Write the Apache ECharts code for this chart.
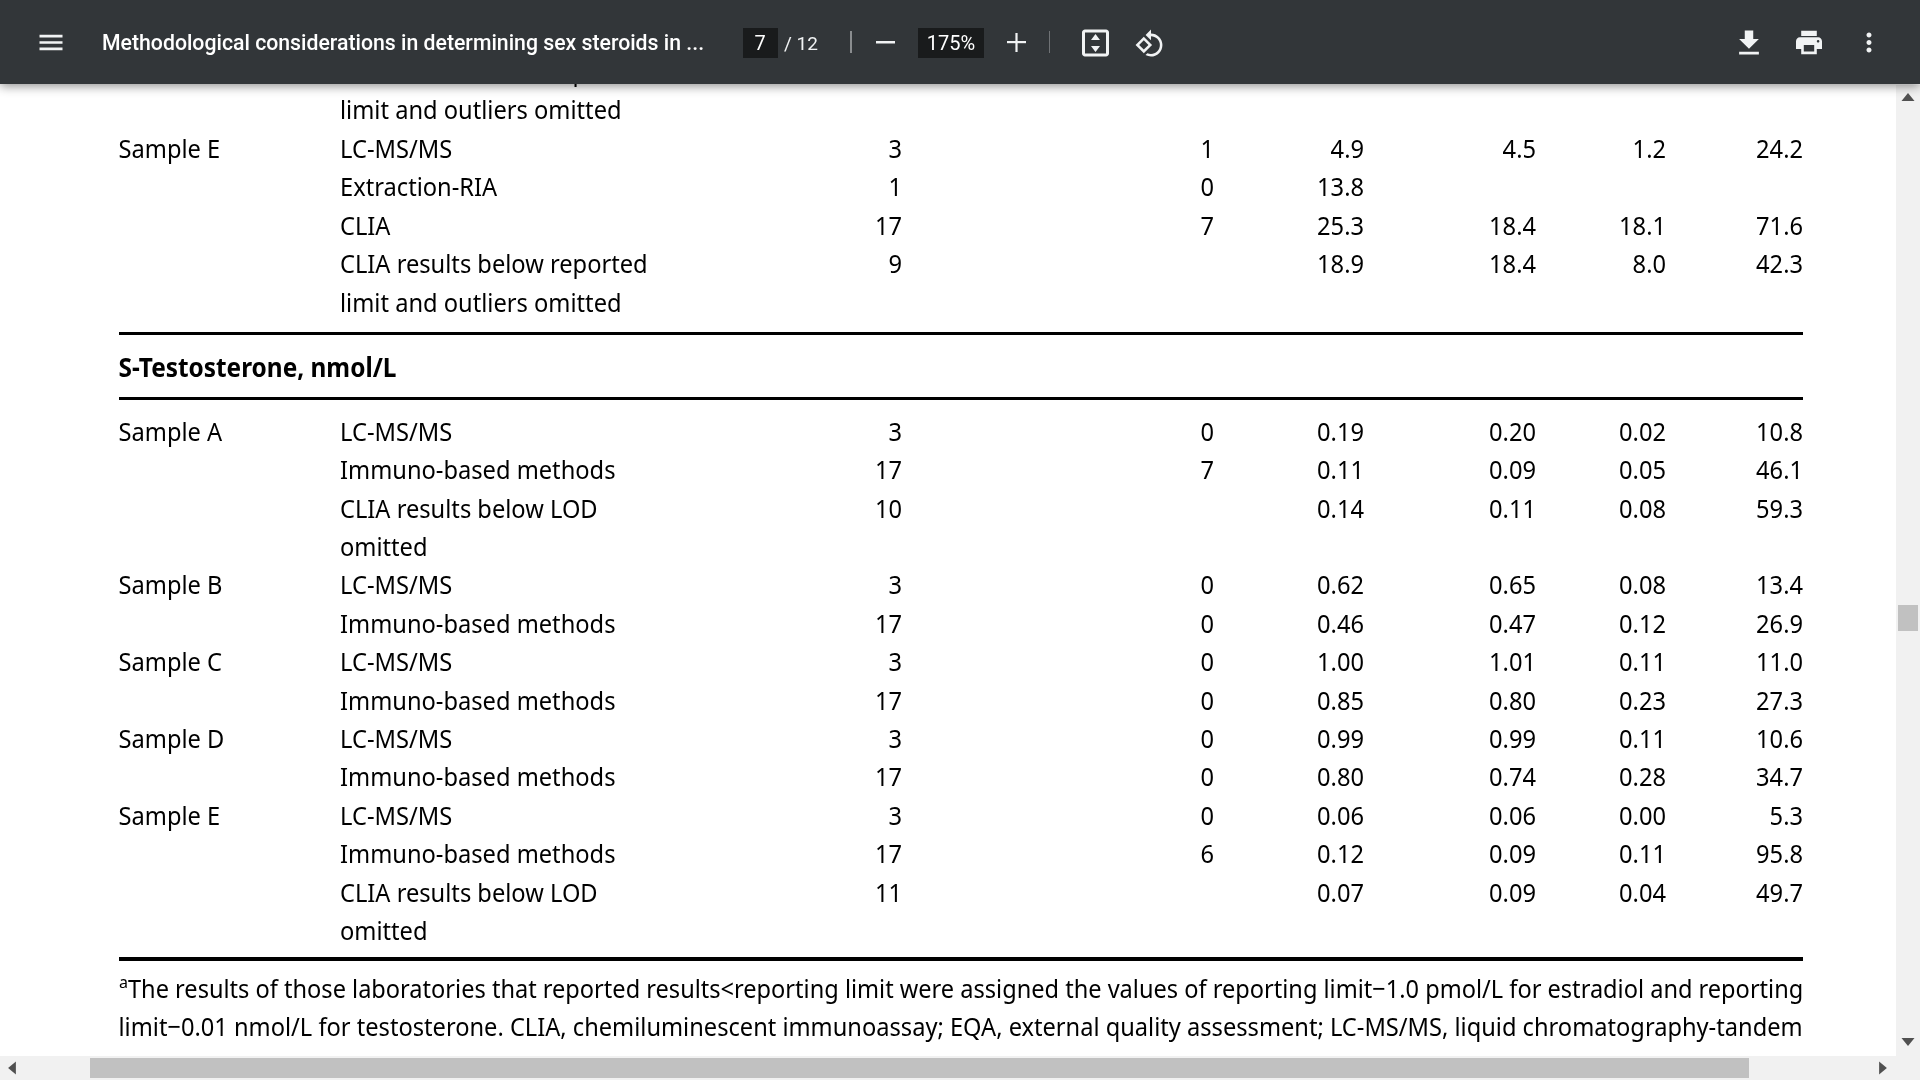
<!DOCTYPE html>
<html>
<head>
<meta charset="utf-8">
<style>html,body{margin:0;padding:0;background:#fff}#chart{width:1920px;height:1080px}</style>
<script src="https://cdn.jsdelivr.net/npm/echarts@6/dist/echarts.min.js"></script>
</head>
<body>
<div id="chart"></div>
<script>
// rows before the S-Testosterone rule (first row is cut off by the toolbar)
const topSamples = ['', '', 'Sample E', '', '', '', '']
const topMethods = ['CLIA results below reported', 'limit and outliers omitted', 'LC-MS/MS', 'Extraction-RIA', 'CLIA', 'CLIA results below reported', 'limit and outliers omitted']
const topN = ['', '', '3', '1', '17', '9', '']
const topBelow = ['', '', '1', '0', '7', '', '']
const topMean = ['', '', '4.9', '13.8', '25.3', '18.9', '']
const topMedian = ['', '', '4.5', '', '18.4', '18.4', '']
const topSd = ['', '', '1.2', '', '18.1', '8.0', '']
const topCv = ['', '', '24.2', '', '71.6', '42.3', '']

// S-Testosterone rows
const heading = 'S-Testosterone, nmol/L'
const samples = ['Sample A', '', '', '', 'Sample B', '', 'Sample C', '', 'Sample D', '', 'Sample E', '', '', '']
const methods = ['LC-MS/MS', 'Immuno-based methods', 'CLIA results below LOD', 'omitted', 'LC-MS/MS', 'Immuno-based methods', 'LC-MS/MS', 'Immuno-based methods', 'LC-MS/MS', 'Immuno-based methods', 'LC-MS/MS', 'Immuno-based methods', 'CLIA results below LOD', 'omitted']
const nLabs = ['3', '17', '10', '', '3', '17', '3', '17', '3', '17', '3', '17', '11', '']
const below = ['0', '7', '', '', '0', '0', '0', '0', '0', '0', '0', '6', '', '']
const mean = ['0.19', '0.11', '0.14', '', '0.62', '0.46', '1.00', '0.85', '0.99', '0.80', '0.06', '0.12', '0.07', '']
const median = ['0.20', '0.09', '0.11', '', '0.65', '0.47', '1.01', '0.80', '0.99', '0.74', '0.06', '0.09', '0.09', '']
const sd = ['0.02', '0.05', '0.08', '', '0.08', '0.12', '0.11', '0.23', '0.11', '0.28', '0.00', '0.11', '0.04', '']
const cv = ['10.8', '46.1', '59.3', '', '13.4', '26.9', '11.0', '27.3', '10.6', '34.7', '5.3', '95.8', '49.7', '']

const footnote1 = 'The results of those laboratories that reported results<reporting limit were assigned the values of reporting limit\u22121.0 pmol/L for estradiol and reporting'
const footnote2 = 'limit\u22120.01 nmol/L for testosterone. CLIA, chemiluminescent immunoassay; EQA, external quality assessment; LC-MS/MS, liquid chromatography-tandem'

const FONT = '"Noto Sans"'
const TEXT = '#000'
const SIZE = 26
const SQUEEZE = 0.91

// column x in axis units (same as px, axis runs over the rule width)
const LEFT = 119, RIGHT = 1803
const columns = [
  { x: -0.5, align: 'left' }, // sample
  { x: 221, align: 'left' },  // method
  { x: 783, align: 'right' }, // n
  { x: 1095, align: 'right' },
  { x: 1245, align: 'right' },
  { x: 1417, align: 'right' },
  { x: 1547, align: 'right' },
  { x: 1684, align: 'right' }
]

function tableSeries(cols, gridIndex) {
  return cols.map((col, c) => {
    const rows = col.map((t, i) => [columns[c].x, i, t]).filter(d => d[2] !== '')
    return {
      type: 'custom',
      xAxisIndex: gridIndex === 0 ? 0 : 1,
      yAxisIndex: gridIndex,
      silent: true,
      data: rows.map(d => [d[0], d[1]]),
      renderItem: (params, api) => {
        const p = api.coord([api.value(0), api.value(1)])
        return {
          type: 'text',
          x: p[0],
          y: p[1],
          scaleX: SQUEEZE,
          style: {
            text: rows[params.dataIndex][2],
            font: `${SIZE}px ${FONT}`,
            fill: TEXT,
            align: columns[c].align,
            verticalAlign: 'middle'
          }
        }
      }
    }
  })
}

function text(str, x, y, opt) {
  opt = opt || {}
  return {
    type: 'text',
    z: opt.z || 100,
    x,
    y,
    scaleX: opt.scaleX || 1,
    style: {
      text: str,
      font: `${opt.weight || 'normal'} ${opt.size || SIZE}px ${opt.family || FONT}`,
      fill: opt.fill || TEXT,
      align: opt.align || 'left',
      verticalAlign: 'middle'
    }
  }
}
function rect(x, y, w, h, fill, extra) {
  return Object.assign({ type: 'rect', z: 100, shape: { x, y, width: w, height: h }, style: { fill } }, extra || {})
}
function icon(d, cx, cy, size, fill) {
  return {
    type: 'path',
    shape: { pathData: d, layout: 'center', x: cx - size / 2, y: cy - size / 2, width: size, height: size },
    style: { fill: fill || '#f1f3f4' }
  }
}

const BAR = '#323639'
const LIGHT = '#f1f3f4'

const graphicEls = [
  // heading + footnote
  text(heading, LEFT - 0.5, 370, { weight: 'bold', scaleX: 0.938, z: 5 }),
  text('a', 119, 983, { size: 16, z: 5 }),
  text(footnote1, 128, 991, { scaleX: 0.9065, z: 5 }),
  text(footnote2, LEFT - 0.5, 1029, { scaleX: 0.909, z: 5 }),

  // toolbar
  rect(0, 0, 1920, 84, BAR, { style: { fill: BAR, shadowBlur: 10, shadowColor: 'rgba(0,0,0,0.45)', shadowOffsetY: 2 } }),
  text('Methodological considerations in determining sex steroids in ...', 102, 44, { size: 22, weight: 500, family: 'Roboto', scaleX: 0.966, fill: '#fff', z: 101 }),
  rect(743, 28, 35, 30, '#191b1c', { z: 101 }),
  text('7', 760, 44.5, { size: 20, family: 'Roboto', fill: '#fff', align: 'center', z: 102 }),
  text('/ 12', 784, 45, { size: 19, family: 'Roboto', fill: LIGHT, z: 101 }),
  rect(850, 31, 2, 22, '#8a8d8f', { z: 101 }),
  rect(876, 41, 19, 2.5, LIGHT, { z: 101 }),
  rect(918, 28, 66, 30, '#191b1c', { z: 101 }),
  text('175%', 951, 44.5, { size: 20, family: 'Roboto', fill: '#fff', align: 'center', z: 102 }),
  rect(1007, 41, 19, 2.2, LIGHT, { z: 101 }),
  rect(1015.4, 33, 2.2, 19, LIGHT, { z: 101 }),
  rect(1049, 31, 1, 22, '#6f7275', { z: 101 }),

  // scrollbars
  rect(1896, 85, 24, 995, '#f1f1f1', { z: 90 }),
  rect(0, 1056, 1920, 24, '#f1f1f1', { z: 90 }),
  rect(1898, 605, 20, 26, '#c1c1c1', { z: 91 }),
  rect(90, 1058, 1659, 20, '#c1c1c1', { z: 91 })
]

// the graphic component has no path type, so icons go through a custom series
const icons = [
  icon('M3 18h18v-2H3v2zm0-5h18v-2H3v2zm0-7v2h18V6H3z', 51, 42.5, 23),
  icon('M19 3H5C3.9 3 3 3.9 3 5v14c0 1.1.9 2 2 2h14c1.1 0 2-.9 2-2V5c0-1.1-.9-2-2-2zm0 16H5V5h14v14zM12 6l-3 4h6l-3-4zm0 12l3-4H9l3 4z', 1095.5, 43, 27),
  icon('M7.34 6.41L.86 12.9l6.49 6.48 6.49-6.48-6.5-6.49zM3.69 12.9l3.66-3.66L11 12.9l-3.66 3.66-3.65-3.66zm15.67-6.26C17.61 4.88 15.3 4 13 4V.76L8.76 5 13 9.24V6c1.79 0 3.58.68 4.95 2.05 2.73 2.73 2.73 7.17 0 9.9C16.58 19.32 14.79 20 13 20c-.97 0-1.94-.21-2.84-.61l-1.49 1.49C10.02 21.62 11.51 22 13 22c2.3 0 4.61-.88 6.36-2.64 3.52-3.51 3.52-9.21 0-12.72z', 1149, 43, 27),
  icon('M19 9h-4V3H9v6H5l7 7 7-7zM5 18v2h14v-2H5z', 1749, 42.5, 24),
  icon('M19 8H5c-1.66 0-3 1.34-3 3v6h4v4h12v-4h4v-6c0-1.66-1.34-3-3-3zm-3 11H8v-5h8v5zm3-7c-.55 0-1-.45-1-1s.45-1 1-1 1 .45 1 1-.45 1-1 1zm-1-9H6v4h12V3z', 1809, 42.5, 26),
  icon('M12 8c1.1 0 2-.9 2-2s-.9-2-2-2-2 .9-2 2 .9 2 2 2zm0 2c-1.1 0-2 .9-2 2s.9 2 2 2 2-.9 2-2-.9-2-2-2zm0 6c-1.1 0-2 .9-2 2s.9 2 2 2 2-.9 2-2-.9-2-2-2z', 1869, 42.5, 20),
  icon('M7 14l5-6 5 6z', 1908, 97, 13, '#505050'),
  icon('M7 10l5 6 5-6z', 1908, 1042, 13, '#505050'),
  icon('M14 7l-6 5 6 5z', 12, 1068, 13, '#505050'),
  icon('M10 7l6 5-6 5z', 1883, 1068, 13, '#505050')
]

const xBase = { type: 'value', min: 0, max: RIGHT - LEFT, splitLine: { show: false }, axisTick: { show: false }, axisLabel: { show: false } }
const yBase = { type: 'value', inverse: true, splitLine: { show: false }, axisLine: { show: false }, axisTick: { show: false }, axisLabel: { show: false } }
const rule = w => ({ show: true, onZero: false, lineStyle: { color: '#000', width: w, cap: 'butt' } })

const chart = echarts.init(document.getElementById('chart'))
chart.setOption({
  animation: false,
  backgroundColor: '#fff',
  grid: [
    // row 2 (Sample E) sits at y=149, pitch 38.5, bottom edge is the rule
    { left: LEFT, right: 1920 - RIGHT, top: 52, height: 281 },
    { left: LEFT, right: 1920 - RIGHT, top: 398, height: 561 }
  ],
  xAxis: [
    Object.assign({}, xBase, { gridIndex: 0, position: 'bottom', axisLine: rule(3) }),
    Object.assign({}, xBase, { gridIndex: 1, position: 'bottom', axisLine: rule(4) }),
    Object.assign({}, xBase, { gridIndex: 1, position: 'top', axisLine: rule(3) })
  ],
  yAxis: [
    Object.assign({}, yBase, { gridIndex: 0, min: -0.55, max: 6.75 }),
    Object.assign({}, yBase, { gridIndex: 1, min: -0.92, max: 13.69 })
  ],
  graphic: { elements: graphicEls },
  series: [
    ...tableSeries([topSamples, topMethods, topN, topBelow, topMean, topMedian, topSd, topCv], 0),
    ...tableSeries([samples, methods, nLabs, below, mean, median, sd, cv], 1),
    {
      type: 'custom',
      coordinateSystem: 'none',
      silent: true,
      z: 200,
      data: icons.map((d, i) => i),
      renderItem: params => icons[params.dataIndex]
    }
  ]
})
</script>
</body>
</html>
